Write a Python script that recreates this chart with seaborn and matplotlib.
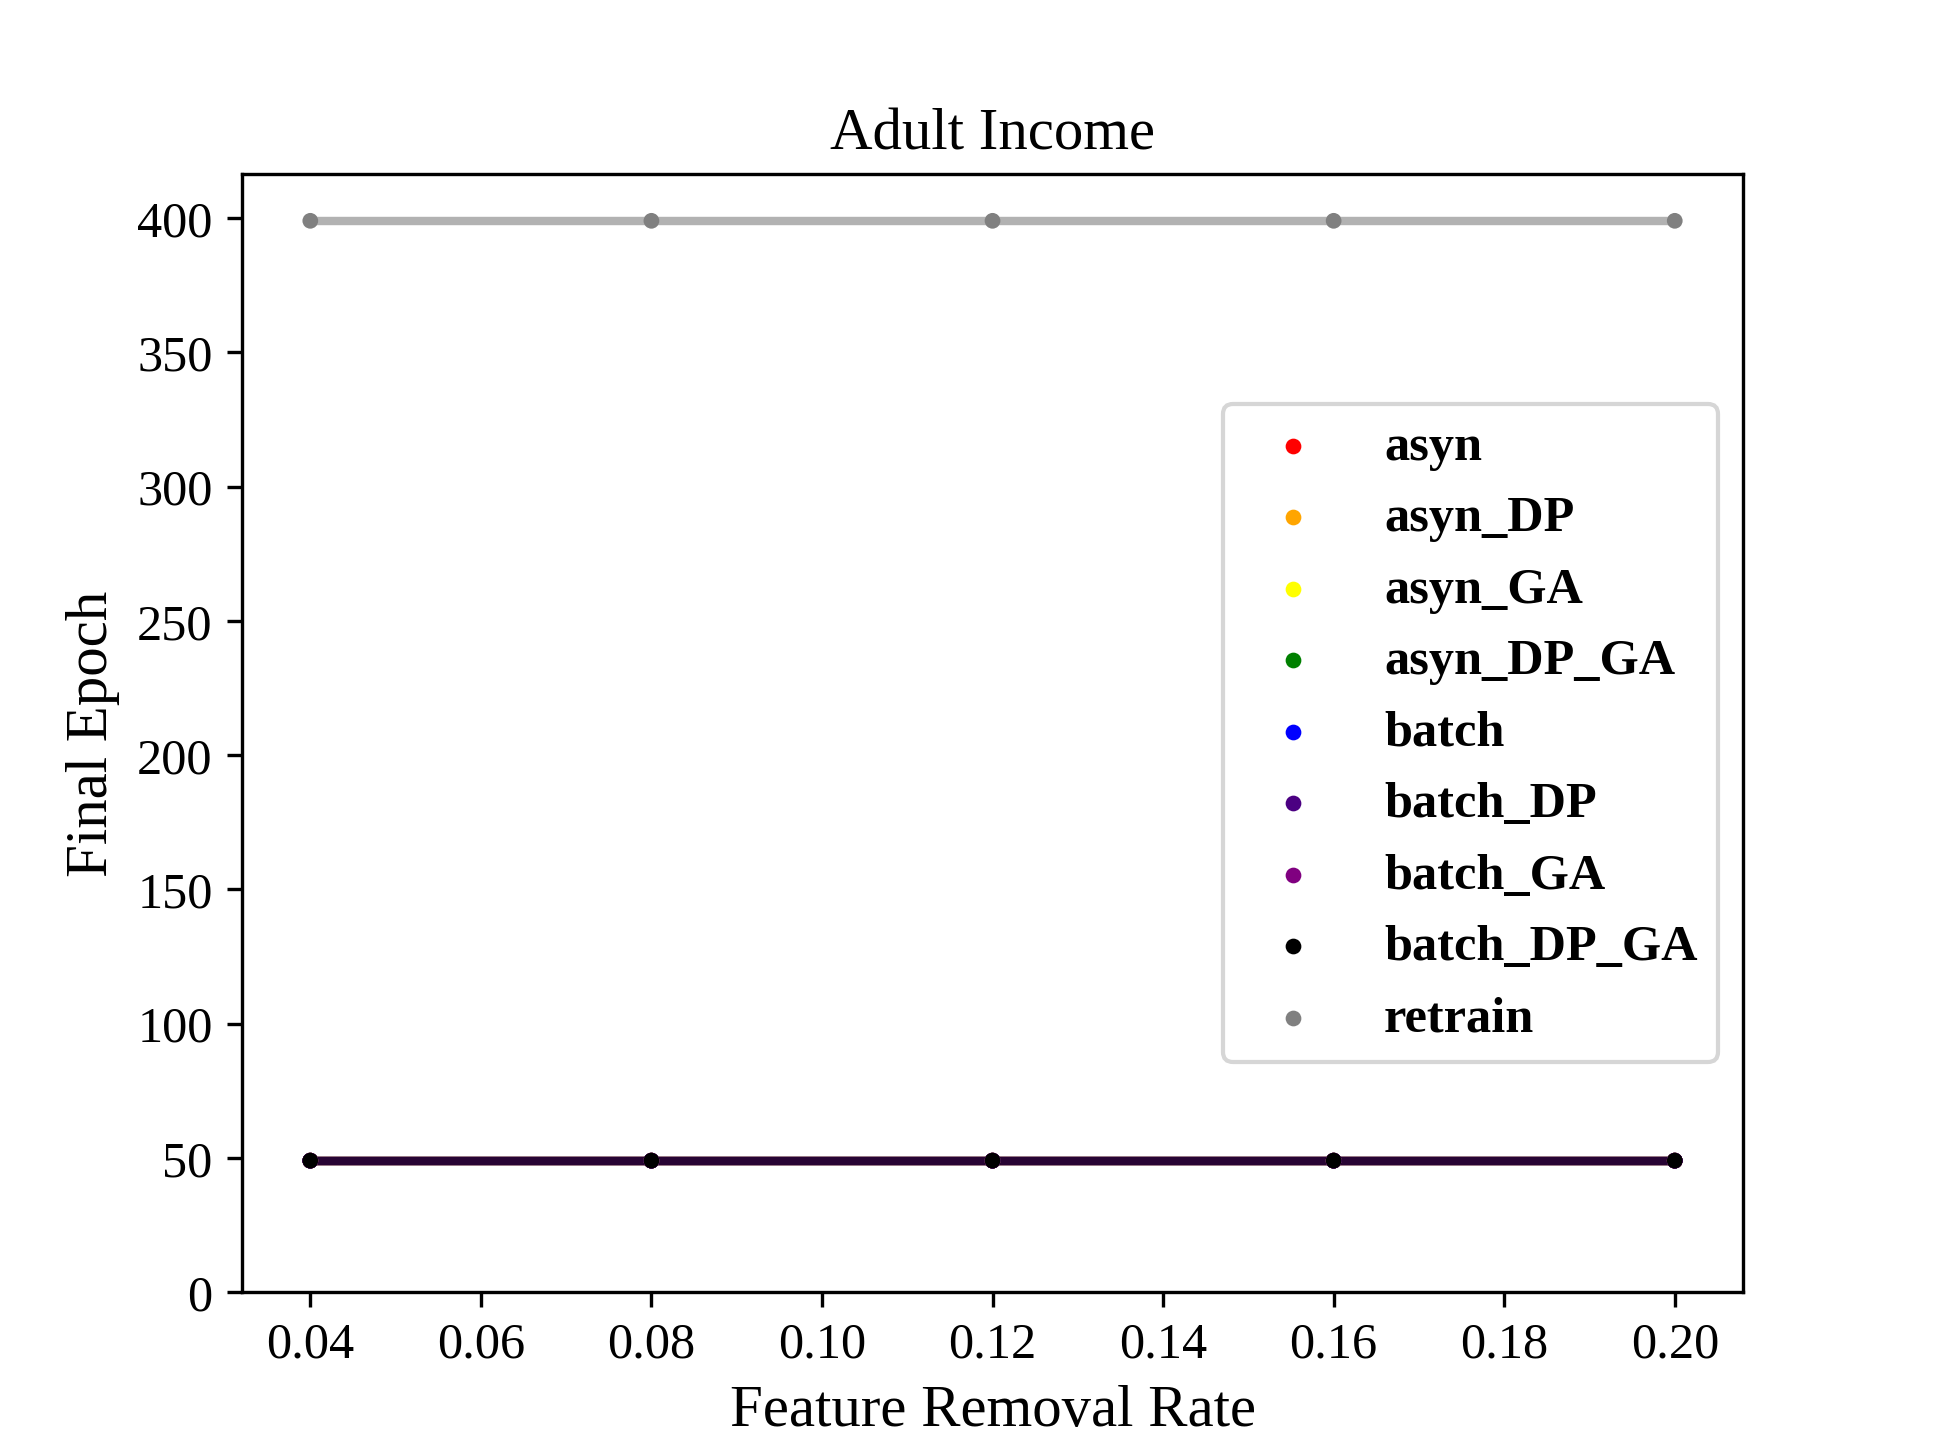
import pandas as pd
import matplotlib
matplotlib.use('Agg')
import matplotlib.pyplot as plt
import seaborn as sns

# Datos
tasas = [0.04, 0.08, 0.12, 0.16, 0.20]
metodos = ['asyn', 'asyn_DP', 'asyn_GA', 'asyn_DP_GA', 'batch',
           'batch_DP', 'batch_GA', 'batch_DP_GA', 'retrain']
colores = ['red', 'orange', 'yellow', 'green', 'blue',
           'indigo', 'purple', 'black', 'gray']
epoca_final = {
    'asyn':        [49, 49, 49, 49, 49],
    'asyn_DP':     [49, 49, 49, 49, 49],
    'asyn_GA':     [49, 49, 49, 49, 49],
    'asyn_DP_GA':  [49, 49, 49, 49, 49],
    'batch':       [49, 49, 49, 49, 49],
    'batch_DP':    [49, 49, 49, 49, 49],
    'batch_GA':    [49, 49, 49, 49, 49],
    'batch_DP_GA': [49, 49, 49, 49, 49],
    'retrain':     [399, 399, 399, 399, 399],
}

# Formato largo para seaborn
filas = []
for m in metodos:
    for x, y in zip(tasas, epoca_final[m]):
        filas.append({'Feature Removal Rate': x, 'Final Epoch': y, 'Método': m})
df = pd.DataFrame(filas)
paleta = dict(zip(metodos, colores))

plt.rcParams['font.family'] = ['Liberation Serif', 'DejaVu Serif']

fig, ax = plt.subplots(figsize=(6.4, 4.8), dpi=302.6)

sns.lineplot(data=df, x='Feature Removal Rate', y='Final Epoch', hue='Método',
             hue_order=metodos, palette=paleta, alpha=0.6, linewidth=2,
             legend=False, ax=ax)
sns.scatterplot(data=df, x='Feature Removal Rate', y='Final Epoch', hue='Método',
                hue_order=metodos, palette=paleta, s=14, linewidth=0,
                zorder=3, legend=False, ax=ax)

ax.set_ylim(bottom=0)
ax.set_title('Adult Income', fontsize=14)
ax.set_xlabel('Feature Removal Rate', fontsize=14)
ax.set_ylabel('Final Epoch', fontsize=14)
ax.tick_params(labelsize=12)

# Leyenda con marcadores tipo scatter (solo punto)
proxies = [ax.scatter([], [], color=paleta[m], s=14, linewidth=0, label=m)
           for m in metodos]
ax.legend(handles=proxies, loc='center right',
          prop={'weight': 'bold', 'size': 12})

plt.savefig('out.png', dpi=302.6)
